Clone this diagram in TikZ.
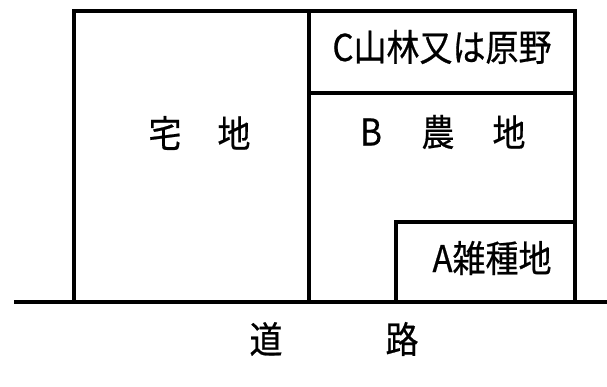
\documentclass[tikz,border=0pt]{standalone}
\usepackage{fontspec}
\setmainfont{Noto Sans CJK JP}[FakeBold=0.6]
\newcommand\tallt[1]{\scalebox{1}[1.12]{#1}}
\begin{document}
\begin{tikzpicture}[x=1pt,y=-1pt,
  wall/.style={line width=4pt, line join=miter},
  lbl/.style={inner sep=0pt, font=\fontsize{33}{33}\selectfont}]
\useasboundingbox (0,0) rectangle (607,387);
% plots
\draw[wall] (74,302) -- (74,11) -- (575,11) -- (575,302);
\draw[wall] (309,11) -- (309,302);
\draw[wall] (309,93) -- (575,93);
\draw[wall] (396,302) -- (396,222) -- (575,222);
% road
\draw[wall] (14,302) -- (607,302);
% labels
\node[lbl] (taku) at (165,133) {\tallt{宅}};
\node[lbl] (chi1) at (234,133) {\tallt{地}};
\node[lbl] (c) at (442,47) {\tallt{C山林又は原野}};
\node[lbl] (b) at (371,132) {\tallt{B}};
\node[lbl] (nou) at (438,132) {\tallt{農}};
\node[lbl] (chi2) at (509,132) {\tallt{地}};
\node[lbl] (a) at (492,258) {\tallt{A雑種地}};
\node[lbl] (michi) at (266,339) {\tallt{道}};
\node[lbl] (ro) at (402,339) {\tallt{路}};
\end{tikzpicture}
\end{document}
